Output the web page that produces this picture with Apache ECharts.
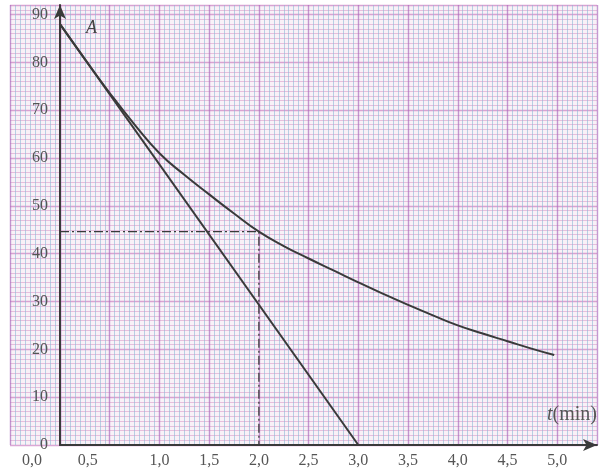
<!DOCTYPE html>
<html>
<head>
<meta charset="utf-8">
<script src="https://cdn.jsdelivr.net/npm/echarts@6/dist/echarts.min.js"></script>
<style>
  html, body { margin: 0; padding: 0; background: #fff; }
  #chart { width: 600px; height: 475px; }
</style>
</head>
<body>
<div id="chart"></div>
<script>
// values
var curveT = [0, 0.25, 0.5, 0.75, 1.0, 1.25, 1.5, 1.75, 2.0, 2.25, 2.5, 2.75, 3.0, 3.25, 3.5, 3.75, 4.0, 4.25, 4.5, 4.75, 4.97];
var curveA = [88, 80.7, 73.6, 67.0, 61.0, 56.5, 52.4, 48.4, 44.6, 41.6, 39.0, 36.5, 34.0, 31.6, 29.3, 27.1, 25.0, 23.3, 21.7, 20.1, 18.8];
var tangentT = [0, 3.0];
var tangentA = [88, 0];
var guideT = [0, 2.0, 2.0];
var guideA = [44.6, 44.6, 0];

var ink = '#3a3a3a';
var labelFont = '"Liberation Serif", "DejaVu Serif", serif';

var majorX = { show: true, lineStyle: { color: 'rgba(170,110,190,0.7)', width: 1.4 } };
var minorX = { show: true, lineStyle: { color: 'rgba(140,185,215,0.6)', width: 1 } };
var majorY = { show: true, lineStyle: { color: 'rgba(200,120,190,0.65)', width: 1.4 } };
var minorY = { show: true, lineStyle: { color: 'rgba(215,150,200,0.55)', width: 1 } };

function pairs(xs, ys) {
    var out = [];
    for (var i = 0; i < xs.length; i++) {
        out.push([xs[i], ys[i]]);
    }
    return out;
}

var chart = echarts.init(document.getElementById('chart'));

chart.setOption({
    animation: false,
    backgroundColor: '#fff',
    grid: [
        {   // main plot, y axis at t = 0
            left: 60, right: 3, top: 5, bottom: 30,
            show: true,
            backgroundColor: '#f8f1f7',
            borderWidth: 0
        },
        {   // strip of graph paper left of the A axis
            left: 10, width: 50, top: 5, bottom: 30,
            show: true,
            backgroundColor: '#f8f1f7',
            borderWidth: 0
        }
    ],
    xAxis: [
        {
            type: 'value',
            gridIndex: 0,
            min: 0,
            max: 5.4,
            interval: 0.5,
            axisLine: {
                symbol: ['none', 'arrow'],
                symbolSize: [9, 14],
                lineStyle: { color: ink, width: 2 }
            },
            axisTick: { show: false },
            axisLabel: {
                margin: 8,
                fontFamily: labelFont,
                fontSize: 16,
                color: '#555',
                formatter: function (v) {
                    if (v > 5.01) return '';
                    var s = v.toFixed(1).replace('.', ',');
                    if (v === 0) return '{a|' + s + '}';
                    if (v === 0.5) return '{b|' + s + '}';
                    return s;
                },
                rich: {
                    a: { fontFamily: labelFont, fontSize: 16, color: '#555', padding: [0, 56, 0, 0] },
                    b: { fontFamily: labelFont, fontSize: 16, color: '#555', padding: [0, 44, 0, 0] }
                }
            },
            splitLine: majorX,
            minorTick: { show: false, splitNumber: 10 },
            minorSplitLine: minorX,
            name: '{i|t}(min)',
            nameLocation: 'end',
            nameGap: 0,
            nameTextStyle: {
                align: 'right',
                verticalAlign: 'bottom',
                padding: [0, 0, 20, 0],
                fontFamily: labelFont,
                fontSize: 20,
                color: '#555',
                rich: {
                    i: { fontFamily: labelFont, fontSize: 20, fontStyle: 'italic', color: '#555' }
                }
            }
        },
        {
            type: 'value',
            gridIndex: 1,
            min: -0.5,
            max: 0,
            interval: 0.5,
            axisLine: { show: false },
            axisTick: { show: false },
            axisLabel: { show: false },
            splitLine: majorX,
            minorTick: { show: false, splitNumber: 10 },
            minorSplitLine: minorX
        }
    ],
    yAxis: [
        {
            type: 'value',
            gridIndex: 0,
            min: 0,
            max: 92,
            interval: 10,
            axisLine: {
                show: true,
                symbol: ['none', 'arrow'],
                symbolSize: [9, 14],
                lineStyle: { color: ink, width: 2 }
            },
            axisTick: { show: false },
            axisLabel: {
                margin: 12,
                fontFamily: labelFont,
                fontSize: 16,
                color: '#555',
                formatter: function (v) {
                    return v % 10 === 0 ? String(v) : '';
                }
            },
            splitLine: majorY,
            minorTick: { show: false, splitNumber: 10 },
            minorSplitLine: minorY,
            name: 'A',
            nameLocation: 'end',
            nameGap: -32,
            nameTextStyle: {
                align: 'left',
                padding: [0, 0, 0, 26],
                fontFamily: labelFont,
                fontSize: 18,
                fontStyle: 'italic',
                color: '#444'
            }
        },
        {
            type: 'value',
            gridIndex: 1,
            min: 0,
            max: 92,
            interval: 10,
            axisLine: { show: false },
            axisTick: { show: false },
            axisLabel: { show: false },
            splitLine: majorY,
            minorTick: { show: false, splitNumber: 10 },
            minorSplitLine: minorY
        }
    ],
    series: [
        {
            name: 'curve',
            type: 'line',
            smooth: 0.5,
            symbol: 'none',
            data: pairs(curveT, curveA),
            lineStyle: { color: ink, width: 2 },
            z: 5
        },
        {
            name: 'tangent',
            type: 'line',
            symbol: 'none',
            data: pairs(tangentT, tangentA),
            lineStyle: { color: ink, width: 2 },
            z: 5
        },
        {
            name: 'guide',
            type: 'line',
            symbol: 'none',
            data: pairs(guideT, guideA),
            lineStyle: { color: ink, width: 1.3, type: [9, 3, 2, 3] },
            z: 4
        }
    ]
});
</script>
</body>
</html>
